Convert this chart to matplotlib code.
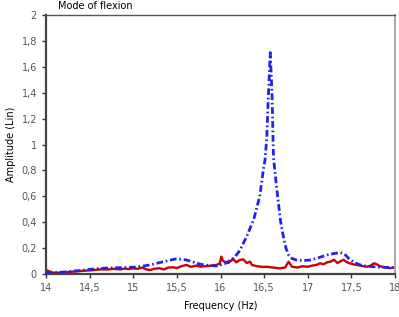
import matplotlib.pyplot as plt

# blue: mode of flexion response (dash-dot)
freq_blue = [14.0, 14.2, 14.4, 14.62, 14.8, 15.0, 15.1, 15.19, 15.27, 15.38, 15.48, 15.55, 15.61,
             15.7, 15.77, 15.87, 15.96, 16.05, 16.15, 16.22, 16.30, 16.38, 16.45, 16.49, 16.51,
             16.53, 16.55, 16.57, 16.59, 16.605, 16.61, 16.635, 16.66, 16.69, 16.72, 16.75, 16.78,
             16.82, 16.87, 16.95, 17.03, 17.12, 17.22, 17.3, 17.37, 17.42, 17.47, 17.53, 17.6,
             17.68, 17.75, 17.85, 17.98]
amp_blue = [0.005, 0.015, 0.028, 0.044, 0.048, 0.052, 0.06, 0.07, 0.083, 0.1, 0.116, 0.114, 0.108,
            0.09, 0.075, 0.066, 0.062, 0.08, 0.12, 0.18, 0.29, 0.42, 0.6, 0.8, 0.88,
            1.05, 1.4, 1.71, 1.4, 0.95, 0.88, 0.72, 0.57, 0.4, 0.29, 0.2, 0.147,
            0.12, 0.108, 0.104, 0.108, 0.125, 0.147, 0.158, 0.165, 0.155, 0.12, 0.09, 0.07,
            0.06, 0.056, 0.052, 0.05]

# red: measured noisy response (solid)
freq_red = [14.0, 14.04, 14.08, 14.15, 14.25, 14.35, 14.45, 14.55, 14.62, 14.7, 14.78, 14.85,
            14.9, 14.95, 15.0, 15.05, 15.1, 15.15, 15.19, 15.24, 15.3, 15.35, 15.4, 15.46,
            15.5, 15.55, 15.61, 15.66, 15.72, 15.77, 15.83, 15.9, 15.95, 15.99, 16.01, 16.03,
            16.05, 16.09, 16.13, 16.14, 16.18, 16.22, 16.26, 16.3, 16.34, 16.36, 16.42, 16.48,
            16.53, 16.6, 16.68, 16.74, 16.78, 16.82, 16.88, 16.94, 17.0, 17.05, 17.1, 17.14,
            17.18, 17.22, 17.26, 17.3, 17.34, 17.38, 17.41, 17.45, 17.48, 17.52, 17.56, 17.6,
            17.64, 17.68, 17.72, 17.76, 17.79, 17.83, 17.89, 17.94, 17.98]
amp_red = [0.03, 0.02, 0.01, 0.01, 0.015, 0.02, 0.026, 0.03, 0.036, 0.035, 0.04, 0.035,
           0.042, 0.038, 0.044, 0.04, 0.05, 0.036, 0.03, 0.04, 0.045, 0.035, 0.05, 0.052,
           0.045, 0.06, 0.07, 0.055, 0.065, 0.056, 0.06, 0.065, 0.07, 0.08, 0.134, 0.1,
           0.095, 0.085, 0.108, 0.12, 0.09, 0.108, 0.113, 0.085, 0.095, 0.07, 0.06, 0.055,
           0.056, 0.05, 0.044, 0.05, 0.095, 0.056, 0.05, 0.06, 0.056, 0.065, 0.07, 0.083,
           0.075, 0.09, 0.095, 0.11, 0.085, 0.1, 0.11, 0.09, 0.083, 0.075, 0.07, 0.065,
           0.06, 0.056, 0.065, 0.083, 0.075, 0.06, 0.05, 0.045, 0.05]

xticks = [14, 14.5, 15, 15.5, 16, 16.5, 17, 17.5, 18]
xtick_labels = ["14", "14,5", "15", "15,5", "16", "16,5", "17", "17,5", "18"]
yticks = [0, 0.2, 0.4, 0.6, 0.8, 1, 1.2, 1.4, 1.6, 1.8, 2]
ytick_labels = ["0", "0,2", "0,4", "0,6", "0,8", "1", "1,2", "1,4", "1,6", "1,8", "2"]

fig = plt.figure(figsize=(3.99, 3.17), dpi=100)
ax = fig.add_axes([0.1153, 0.1356, 0.8747, 0.8171])

ax.plot(freq_red, amp_red, color="#cc0000", lw=1.7, zorder=2)
ax.plot(freq_blue, amp_blue, color="#2222ee", lw=2.0, dashes=(2.4, 1.0, 0.6, 1.0), zorder=3)

ax.set_xlim(14, 18)
ax.set_ylim(0, 2)
ax.set_xticks(xticks)
ax.set_xticklabels(xtick_labels)
ax.set_yticks(yticks)
ax.set_yticklabels(ytick_labels)
ax.tick_params(labelsize=7, colors="#555555", length=3, width=1)
ax.tick_params(axis="both", color="#333333")

for s in ["left", "bottom"]:
    ax.spines[s].set_color("#444444")
    ax.spines[s].set_linewidth(1.6)
ax.spines["top"].set_color("#555555")
ax.spines["top"].set_linewidth(1.0)
ax.spines["right"].set_color("#999999")
ax.spines["right"].set_linewidth(1.2)

ax.set_xlabel("Frequency (Hz)", fontsize=7, labelpad=6)
ax.set_ylabel("Amplitude (Lin)", fontsize=7, labelpad=4)
fig.text(0.145, 0.997, "Mode of flexion", fontsize=7, ha="left", va="top")

fig.savefig("out.png", dpi=100)
